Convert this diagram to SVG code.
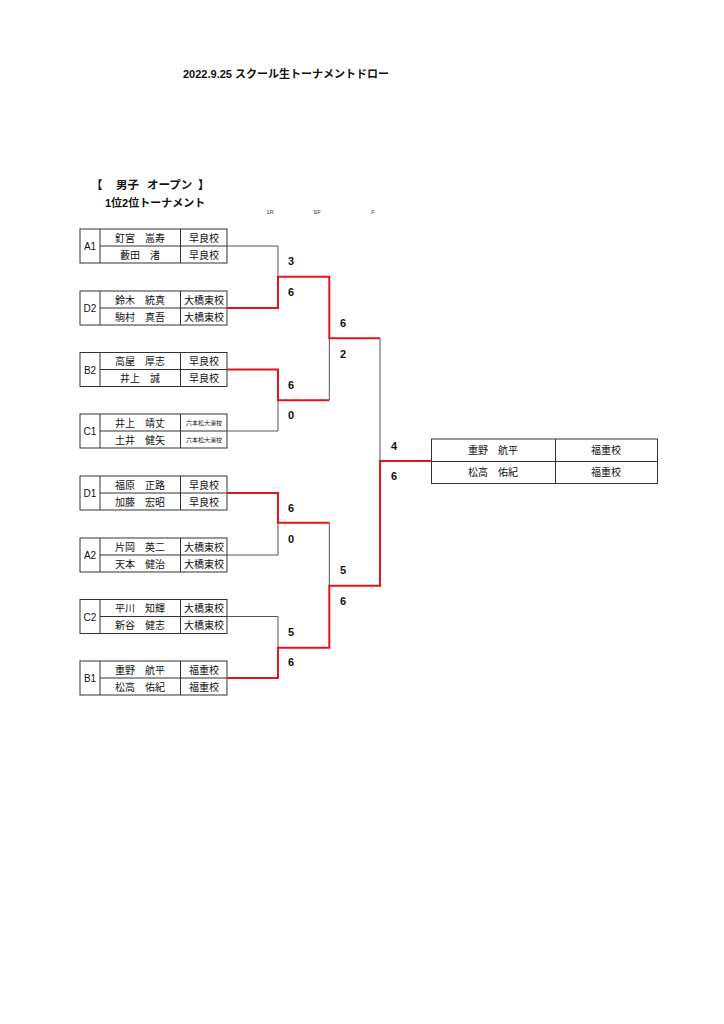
<svg xmlns="http://www.w3.org/2000/svg" width="724" height="1024" viewBox="0 0 724 1024">
<style>
text{font-family:"Liberation Sans","Noto Sans CJK JP",sans-serif;fill:#111}
.t{font-size:11px;font-weight:bold}
.n{font-size:10px;text-anchor:middle}
.s{font-size:10px;text-anchor:middle}
.tiny{font-size:6px;text-anchor:middle}
.sc{font-size:11px;font-weight:bold}
.box{fill:none;stroke:#333;stroke-width:1}
.g{fill:none;stroke:#555;stroke-width:1}
.r{fill:none;stroke:#e0141e;stroke-width:2}
.rl{font-size:6px;text-anchor:middle;fill:#444}
</style>
<rect width="724" height="1024" fill="#fff"/>
<g id="header">
<text class="t" x="183" y="78">2022.9.25 スクール生トーナメントドロー</text>
<text class="t" style="font-size:11.5px" y="189"><tspan x="91">【</tspan><tspan x="116">男子</tspan><tspan x="147">オープン</tspan><tspan x="198">】</tspan></text>
<text class="t" x="105" y="207">1位2位トーナメント</text>
<text class="rl" x="270" y="214">1R</text>
<text class="rl" x="317" y="214">SF</text>
<text class="rl" x="373" y="214">F</text>
</g>
<defs>
<g id="frame">
<rect class="box" x="80" y="0" width="147" height="34"/>
<line class="box" x1="100" y1="0" x2="100" y2="34"/>
<line class="box" x1="180.5" y1="0" x2="180.5" y2="34"/>
<line class="box" x1="100" y1="17" x2="227" y2="17"/>
</g>
</defs>
<g id="A1" transform="translate(0,229)"><use href="#frame"/><text class="n" x="90" y="21">A1</text><text class="n" x="140" y="12.5">釘宮　嵩寿</text><text class="s" x="204" y="12.5">早良校</text><text class="n" x="140" y="29.5">藪田　渚</text><text class="s" x="204" y="29.5">早良校</text></g>
<g id="D2" transform="translate(0,291)"><use href="#frame"/><text class="n" x="90" y="21">D2</text><text class="n" x="140" y="12.5">鈴木　統真</text><text class="s" x="204" y="12.5">大橋東校</text><text class="n" x="140" y="29.5">駒村　真吾</text><text class="s" x="204" y="29.5">大橋東校</text></g>
<g id="B2" transform="translate(0,352.5)"><use href="#frame"/><text class="n" x="90" y="21">B2</text><text class="n" x="140" y="12.5">高屋　厚志</text><text class="s" x="204" y="12.5">早良校</text><text class="n" x="140" y="29.5">井上　誠</text><text class="s" x="204" y="29.5">早良校</text></g>
<g id="C1" transform="translate(0,414)"><use href="#frame"/><text class="n" x="90" y="21">C1</text><text class="n" x="140" y="12.5">井上　靖丈</text><text class="tiny" x="204" y="11">六本松大濠校</text><text class="n" x="140" y="29.5">土井　健矢</text><text class="tiny" x="204" y="28">六本松大濠校</text></g>
<g id="D1" transform="translate(0,476)"><use href="#frame"/><text class="n" x="90" y="21">D1</text><text class="n" x="140" y="12.5">福原　正路</text><text class="s" x="204" y="12.5">早良校</text><text class="n" x="140" y="29.5">加藤　宏昭</text><text class="s" x="204" y="29.5">早良校</text></g>
<g id="A2" transform="translate(0,538)"><use href="#frame"/><text class="n" x="90" y="21">A2</text><text class="n" x="140" y="12.5">片岡　英二</text><text class="s" x="204" y="12.5">大橋東校</text><text class="n" x="140" y="29.5">天本　健治</text><text class="s" x="204" y="29.5">大橋東校</text></g>
<g id="C2" transform="translate(0,599.5)"><use href="#frame"/><text class="n" x="90" y="21">C2</text><text class="n" x="140" y="12.5">平川　知輝</text><text class="s" x="204" y="12.5">大橋東校</text><text class="n" x="140" y="29.5">新谷　健志</text><text class="s" x="204" y="29.5">大橋東校</text></g>
<g id="B1" transform="translate(0,661)"><use href="#frame"/><text class="n" x="90" y="21">B1</text><text class="n" x="140" y="12.5">重野　航平</text><text class="s" x="204" y="12.5">福重校</text><text class="n" x="140" y="29.5">松高　佑紀</text><text class="s" x="204" y="29.5">福重校</text></g>
<g id="winner">
<rect class="box" x="431.5" y="439" width="226" height="44.5"/>
<line class="box" x1="555.5" y1="439" x2="555.5" y2="483.5"/>
<line class="box" x1="431.5" y1="461.5" x2="657.5" y2="461.5"/>
<text class="n" x="493" y="454">重野　航平</text><text class="s" x="606" y="454">福重校</text>
<text class="n" x="493" y="476">松高　佑紀</text><text class="s" x="606" y="476">福重校</text>
</g>
<g id="connectors">
<path class="g" d="M227,246 H278 V276.7"/>
<path class="g" d="M227,431 H278 V400.3"/>
<path class="g" d="M227,555 H278 V522.7"/>
<path class="g" d="M227,616.5 H278 V647.7"/>
<path class="g" d="M329.3,400.3 V338.3"/>
<path class="g" d="M329.3,522.7 V585.7"/>
<path class="g" d="M380,338.3 V461"/>
<path class="r" d="M227,308 H278 V276.7 H329.3 V338.3 H380"/>
<path class="r" d="M227,369.5 H278 V400.3 H329.3"/>
<path class="r" d="M227,493 H278 V522.7 H329.3"/>
<path class="r" d="M227,678 H278 V647.7 H329.3 V585.7 H380 V461 H431.5"/>
</g>
<g id="scores">
<text class="sc" x="288" y="265">3</text>
<text class="sc" x="288" y="296">6</text>
<text class="sc" x="340" y="327">6</text>
<text class="sc" x="340" y="358">2</text>
<text class="sc" x="288" y="389">6</text>
<text class="sc" x="288" y="419">0</text>
<text class="sc" x="391" y="450">4</text>
<text class="sc" x="391" y="480">6</text>
<text class="sc" x="288" y="512">6</text>
<text class="sc" x="288" y="543">0</text>
<text class="sc" x="340" y="574">5</text>
<text class="sc" x="340" y="605">6</text>
<text class="sc" x="288" y="636">5</text>
<text class="sc" x="288" y="666">6</text>
</g>
</svg>
